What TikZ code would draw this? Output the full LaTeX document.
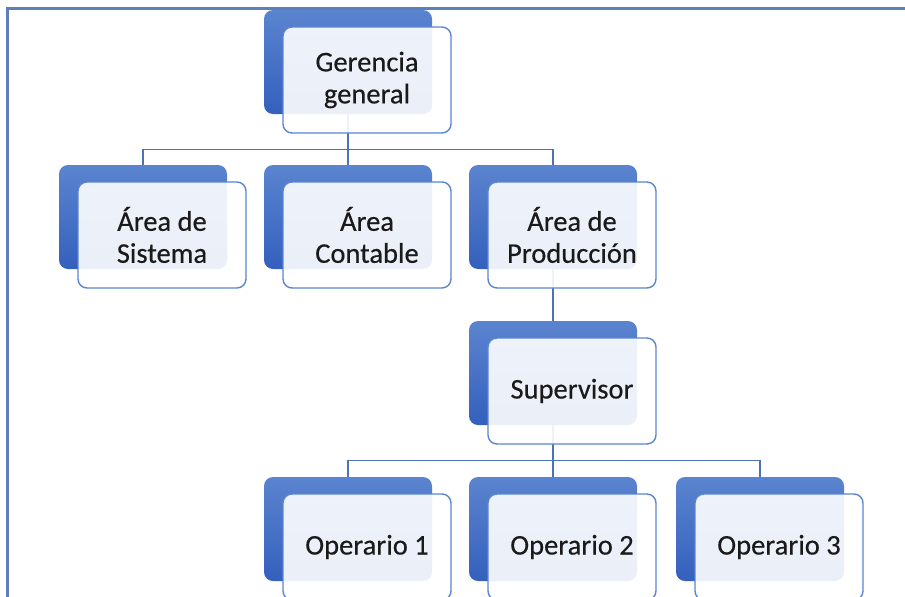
\documentclass[tikz,border=0pt]{standalone}
\usepackage{fontspec}
\setmainfont{Carlito}[FakeBold=0.4]
\usepackage{tikz}
\usetikzlibrary{positioning,calc}
\definecolor{backtop}{HTML}{5B84CF}
\definecolor{backbot}{HTML}{3460BE}
\definecolor{frontline}{HTML}{5A85CF}
\definecolor{linkc}{HTML}{4C72B8}
\definecolor{framec}{HTML}{5F7FB9}
\definecolor{textc}{HTML}{1A1A1A}
\tikzset{
    backbox/.style={shade, top color=backtop, bottom color=backbot, rounded corners=9pt,
        minimum width=168pt, minimum height=104pt, inner sep=0pt},
    frontbox/.style={draw=frontline, line width=1.4pt, fill=white, fill opacity=0.9, text opacity=1,
        rounded corners=9pt, minimum width=168pt, minimum height=106pt, inner sep=0pt,
        align=center, text=textc, font=\fontsize{28.5}{32}\selectfont},
    link/.style={draw=linkc, line width=1.4pt}
}

\begin{document}
\begin{tikzpicture}[x=1pt, y=-1pt]
			\useasboundingbox (0,0) rectangle (905,597);
			
			% Frame
			\draw[framec, line width=2.6pt] (7.5,597) -- (7.5,8.5) -- (905,8.5);
			
			% Back boxes
			\node[backbox] (gerB) at (348,62) {};
			\node[backbox] (sisB) at (143,217) {};
			\node[backbox] (conB) at (348,217) {};
			\node[backbox] (proB) at (553,217) {};
			\node[backbox] (supB) at (553,373) {};
			\node[backbox] (op1B) at (348,529) {};
			\node[backbox] (op2B) at (553,529) {};
			\node[backbox] (op3B) at (760,529) {};
			
			% Links
			\draw[link] (gerB.south) -- ++(0,35) coordinate (hub1) -| (sisB.north);
			\draw[link] (hub1) -| (proB.north);
			\draw[link] (hub1) -- (conB.north);
			\draw[link] (proB.south) -- (supB.north);
			\draw[link] (supB.south) -- ++(0,35) coordinate (hub2) -| (op1B.north);
			\draw[link] (hub2) -| (op3B.north);
			\draw[link] (hub2) -- (op2B.north);
			
			% Front boxes
			\node[frontbox] (ger) at ($(gerB)+(19,18)$) {Gerencia\\general};
			\node[frontbox] (sis) at ($(sisB)+(19,18)$) {Área de\\Sistema};
			\node[frontbox] (con) at ($(conB)+(19,18)$) {Área\\Contable};
			\node[frontbox] (pro) at ($(proB)+(19,18)$) {Área de\\Producción};
			\node[frontbox] (sup) at ($(supB)+(19,18)$) {Supervisor};
			\node[frontbox] (op1) at ($(op1B)+(19,18)$) {Operario 1};
			\node[frontbox] (op2) at ($(op2B)+(19,18)$) {Operario 2};
			\node[frontbox] (op3) at ($(op3B)+(19,18)$) {Operario 3};
		\end{tikzpicture}
\end{document}
